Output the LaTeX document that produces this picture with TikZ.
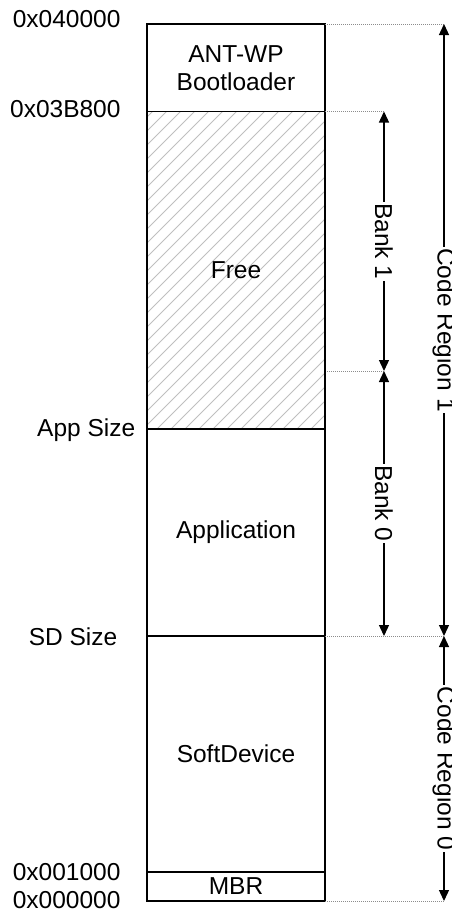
\documentclass[tikz,border=0pt]{standalone}
\usepackage{fontspec}
\setmainfont{Liberation Sans}
\usetikzlibrary{arrows.meta}
\begin{document}
\begin{tikzpicture}[x=1pt,y=-1pt,
  every node/.style={font=\fontsize{24.5}{28}\selectfont},
  mem/.style={draw, line width=1.5pt, minimum width=178pt, inner sep=0pt, outer sep=0pt, anchor=north west, align=center},
  addr/.style={anchor=base east, inner sep=0pt},
  hatch/.style={draw=black!25, line width=0.9pt},
  guide/.style={draw=black!45, line width=0.7pt, dash pattern=on 1pt off 1pt},
  dim/.style={line width=1.3pt, {Triangle[length=11pt,width=10pt]}-{Triangle[length=11pt,width=10pt]}},
  dimlab/.style={rotate=-90, fill=white, inner sep=1.5pt}
]
\useasboundingbox (0,0) rectangle (452,911);

% memory blocks
\node[mem, minimum height=87.5pt] (boot) at (147,24) {ANT-WP\\Bootloader};
\node[mem, minimum height=317.5pt,
  path picture={
    \foreach \i in {-340,-326,...,200}
      \draw[hatch] ([xshift=\i pt]path picture bounding box.south west) -- ++(340,-340);
  }] (free) at (147,111.5) {Free};
\node[mem, minimum height=207pt] (app) at (147,429) {Application};
\node[mem, minimum height=236pt] (sd) at (147,636) {SoftDevice};
\node[mem, minimum height=29pt] (mbr) at (147,872) {MBR};

% address labels
\node[addr] (a1) at (120.7,27) {0x040000};
\node[addr] (a2) at (120.7,117) {0x03B800};
\node[addr] (a3) at (135.5,436) {App Size};
\node[addr] (a4) at (117.5,645) {SD Size};
\node[addr] (a5) at (120.7,880) {0x001000};
\node[addr] (a6) at (120.7,908) {0x000000};

% dimension coordinates
\coordinate (cr1top) at (444,24);
\coordinate (b1top) at (384,111.5);
\coordinate (bsplit) at (384,371);
\coordinate (bsplitL) at (327,371);
\coordinate (b0bot) at (384,636);
\coordinate (cr1bot) at (444,636);
\coordinate (cr0bot) at (444,901);

% guide lines
\draw[guide] (boot.north east) -- (cr1top);
\draw[guide] (free.north east) -- (b1top);
\draw[guide] (bsplitL) -- (bsplit);
\draw[guide] (sd.north east) -- (cr1bot);
\draw[guide] (mbr.south east) -- (cr0bot);

% dimension arrows
\draw[dim] (b1top) -- node[dimlab] (l1) {Bank 1} (bsplit);
\draw[dim] (bsplit) -- node[dimlab] (l2) {Bank 0} (b0bot);
\draw[dim] (cr1top) -- node[dimlab] (l3) {Code Region 1} (cr1bot);
\draw[dim] (cr1bot) -- node[dimlab] (l4) {Code Region 0} (cr0bot);
\end{tikzpicture}
\end{document}
